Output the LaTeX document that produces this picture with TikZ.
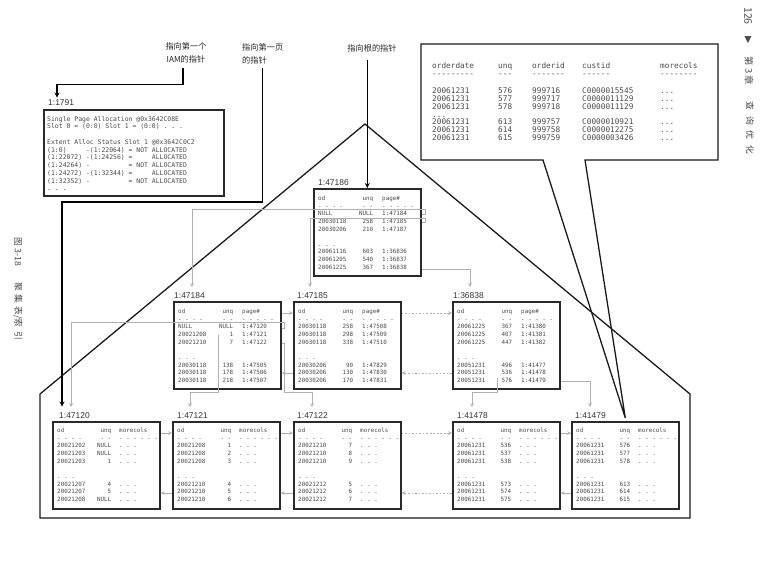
\documentclass[tikz,border=0pt]{standalone}
\usepackage{fontspec}
\setmainfont{Liberation Sans}
\setmonofont{DejaVu Sans Mono}
\newfontfamily\cjk{Noto Sans CJK SC}
\newfontfamily\symfont{DejaVu Sans}
\usepackage{xcolor}
\usepackage{tikz}
\usetikzlibrary{arrows}

\definecolor{inkgray}{HTML}{4A4A4A}
\definecolor{framegray}{HTML}{2A2A2A}
\definecolor{linkgray}{HTML}{B0B0B0}

\newlength{\pxu}
\setlength{\pxu}{0.03cm}
% one row of an index page / a data page / the order table
\newcommand{\prow}[3]{\makebox[55\pxu][l]{#1}\llap{#2}\hspace{9\pxu}#3}
\newcommand{\lrow}[3]{\makebox[54\pxu][l]{#1}\llap{#2}\hspace{8\pxu}#3}
\newcommand{\crow}[5]{\makebox[66\pxu][l]{#1}\makebox[34\pxu][l]{#2}\makebox[50\pxu][l]{#3}\makebox[78\pxu][l]{#4}#5}

\tikzstyle{pagebox} = [rectangle, draw=framegray, line width=1.4pt, minimum width=3.21cm, minimum height=2.61cm, anchor=north west, inner sep=0pt]
\tikzstyle{pagetext} = [anchor=north west, inner sep=0pt, align=left, text=inkgray, font=\ttfamily\fontsize{5}{6.5}\selectfont]
\tikzstyle{pagelabel} = [anchor=south west, inner sep=0pt, text=black!80, font=\fontsize{7.2}{8}\selectfont]
\tikzstyle{ptr} = [->, >=stealth, line width=0.9pt, black]
\tikzstyle{link} = [->, >=stealth, line width=0.5pt, linkgray]
\tikzstyle{farlink} = [link, dash pattern=on 1.5pt off 1.5pt]
\tikzstyle{treeline} = [line width=1.1pt, black!90]
\tikzstyle{note} = [inner sep=0pt, text=black!85, font=\cjk\fontsize{7}{11}\selectfont]
\tikzstyle{margin} = [inner sep=0pt, rotate=-90, text=black!70, font=\cjk\fontsize{7.5}{9}\selectfont]

\begin{document}
\begin{tikzpicture}[x=0.03cm, y=-0.03cm]
        \useasboundingbox (0,0) rectangle (764,582);

        % Tree outline
        \draw[treeline] (40,394) -- (365,124) -- (690,394) -- (690,518) -- (40,518) -- cycle;

        % Pointer texts
        \node[note, align=center] (tIAM) at (186,53) {指向第一个\\IAM的指针};
        \node[note, align=left, anchor=north west] (tfirst) at (242,43) {指向第一页\\的指针};
        \node[note] (troot) at (372,48) {指向根的指针};

        % IAM page
        \node[pagebox, minimum width=5.4cm, minimum height=2.58cm] (p1791) at (43,109) {};
        \node[pagelabel] (l1791) at ([shift={(5,-3)}]p1791.north west) {1:1791};
        \node[pagetext, font=\ttfamily\fontsize{5.5}{6.6}\selectfont] (t1791) at ([shift={(4,7)}]p1791.north west) {Single Page Allocation @0x3642C08E\\
Slot 0 = (0:0) Slot 1 = (0:0) . . .\\[6.6pt]
Extent Alloc Status Slot 1 @0x3642C0C2\\
(1:0)~~~~~-(1:22064) = NOT ALLOCATED\\
(1:22072) -(1:24256) =~~~~~ALLOCATED\\
(1:24264) -~~~~~~~~~~= NOT ALLOCATED\\
(1:24272) -(1:32344) =~~~~~ALLOCATED\\
(1:32352) -~~~~~~~~~~= NOT ALLOCATED\\
. . .};

        % Root page
        \node[pagebox] (p47186) at (313,188) {};
        \node[pagelabel] (l47186) at ([shift={(5,-2)}]p47186.north west) {1:47186};
        \node[pagetext] (t47186) at ([shift={(5,8)}]p47186.north west) {\prow{od}{unq}{page\#}\\
\prow{- - - -}{- -}{- - - - -}\\
\prow{NULL}{NULL}{1:47184}\\
\prow{20030118}{258}{1:47185}\\
\prow{20030206}{210}{1:47187}\\[6.5pt]
. . .\\
\prow{20061116}{603}{1:36836}\\
\prow{20061205}{540}{1:36837}\\
\prow{20061225}{367}{1:36838}};

        % Intermediate pages
        \node[pagebox] (p47184) at (173,301) {};
        \node[pagelabel] (l47184) at ([shift={(1,-2)}]p47184.north west) {1:47184};
        \node[pagetext] (t47184) at ([shift={(5,8)}]p47184.north west) {\prow{od}{unq}{page\#}\\
\prow{- - - -}{- -}{- - - - -}\\
\prow{NULL}{NULL}{1:47120}\\
\prow{20021208}{1}{1:47121}\\
\prow{20021210}{7}{1:47122}\\[6.5pt]
. . .\\
\prow{20030118}{138}{1:47505}\\
\prow{20030118}{178}{1:47506}\\
\prow{20030118}{218}{1:47507}};

        \node[pagebox] (p47185) at (293,301) {};
        \node[pagelabel] (l47185) at ([shift={(4,-2)}]p47185.north west) {1:47185};
        \node[pagetext] (t47185) at ([shift={(5,8)}]p47185.north west) {\prow{od}{unq}{page\#}\\
\prow{- - - -}{- -}{- - - - -}\\
\prow{20030118}{258}{1:47508}\\
\prow{20030118}{298}{1:47509}\\
\prow{20030118}{338}{1:47510}\\[6.5pt]
. . .\\
\prow{20030206}{90}{1:47829}\\
\prow{20030206}{130}{1:47830}\\
\prow{20030206}{170}{1:47831}};

        \node[pagebox] (p36838) at (452,301) {};
        \node[pagelabel] (l36838) at ([shift={(1,-2)}]p36838.north west) {1:36838};
        \node[pagetext] (t36838) at ([shift={(5,8)}]p36838.north west) {\prow{od}{unq}{page\#}\\
\prow{- - - -}{- -}{- - - - -}\\
\prow{20061225}{367}{1:41380}\\
\prow{20061225}{407}{1:41381}\\
\prow{20061225}{447}{1:41382}\\[6.5pt]
. . .\\
\prow{20051231}{496}{1:41477}\\
\prow{20051231}{536}{1:41478}\\
\prow{20051231}{576}{1:41479}};

        % Leaf pages
        \node[pagebox] (p47120) at (52,421) {};
        \node[pagelabel] (l47120) at ([shift={(7,-2)}]p47120.north west) {1:47120};
        \node[pagetext] (t47120) at ([shift={(5,7)}]p47120.north west) {\lrow{od}{unq}{morecols}\\
\lrow{- - - -}{- -}{- - - - - -}\\
\lrow{20021202}{NULL}{. . .}\\
\lrow{20021203}{NULL}{. . .}\\
\lrow{20021203}{1}{. . .}\\[6.5pt]
. . .\\
\lrow{20021207}{4}{. . .}\\
\lrow{20021207}{5}{. . .}\\
\lrow{20021208}{NULL}{. . .}};

        \node[pagebox] (p47121) at (172,421) {};
        \node[pagelabel] (l47121) at ([shift={(5,-2)}]p47121.north west) {1:47121};
        \node[pagetext] (t47121) at ([shift={(5,7)}]p47121.north west) {\lrow{od}{unq}{morecols}\\
\lrow{- - - -}{- -}{- - - - - -}\\
\lrow{20021208}{1}{. . .}\\
\lrow{20021208}{2}{. . .}\\
\lrow{20021208}{3}{. . .}\\[6.5pt]
. . .\\
\lrow{20021210}{4}{. . .}\\
\lrow{20021210}{5}{. . .}\\
\lrow{20021210}{6}{. . .}};

        \node[pagebox] (p47122) at (293,421) {};
        \node[pagelabel] (l47122) at ([shift={(4,-2)}]p47122.north west) {1:47122};
        \node[pagetext] (t47122) at ([shift={(5,7)}]p47122.north west) {\lrow{od}{unq}{morecols}\\
\lrow{- - - -}{- -}{- - - - - -}\\
\lrow{20021210}{7}{. . .}\\
\lrow{20021210}{8}{. . .}\\
\lrow{20021210}{9}{. . .}\\[6.5pt]
. . .\\
\lrow{20021212}{5}{. . .}\\
\lrow{20021212}{6}{. . .}\\
\lrow{20021212}{7}{. . .}};

        \node[pagebox] (p41478) at (452,421) {};
        \node[pagelabel] (l41478) at ([shift={(5,-2)}]p41478.north west) {1:41478};
        \node[pagetext] (t41478) at ([shift={(5,7)}]p41478.north west) {\lrow{od}{unq}{morecols}\\
\lrow{- - - -}{- -}{- - - - - -}\\
\lrow{20061231}{536}{. . .}\\
\lrow{20061231}{537}{. . .}\\
\lrow{20061231}{538}{. . .}\\[6.5pt]
. . .\\
\lrow{20061231}{573}{. . .}\\
\lrow{20061231}{574}{. . .}\\
\lrow{20061231}{575}{. . .}};

        \node[pagebox] (p41479) at (571,421) {};
        \node[pagelabel] (l41479) at ([shift={(4,-2)}]p41479.north west) {1:41479};
        \node[pagetext] (t41479) at ([shift={(5,7)}]p41479.north west) {\lrow{od}{unq}{morecols}\\
\lrow{- - - -}{- -}{- - - - - -}\\
\lrow{20061231}{576}{. . .}\\
\lrow{20061231}{577}{. . .}\\
\lrow{20061231}{578}{. . .}\\[6.5pt]
. . .\\
\lrow{20061231}{613}{. . .}\\
\lrow{20061231}{614}{. . .}\\
\lrow{20061231}{615}{. . .}};

        % Callout with the rows of the last page
        \coordinate (ctip) at ([shift={(0,-3)}]p41479.north);
        \draw[treeline] (421,44) -- (718,44) -- (718,160) -- (585,160) -- (ctip) -- (543,160) -- (421,160) -- cycle;
        \node[pagetext, font=\ttfamily\fontsize{6.6}{6.65}\selectfont] (tcall) at (432,62) {\crow{orderdate}{unq}{orderid}{custid}{morecols}\\[0.85pt]
\crow{-{}-{}-{}-{}-{}-{}-{}-{}-}{-{}-{}-}{-{}-{}-{}-{}-{}-{}-}{-{}-{}-{}-{}-{}-}{-{}-{}-{}-{}-{}-{}-{}-}\\[7.6pt]
\crow{20061231}{576}{999716}{C0000015545}{...}\\
\crow{20061231}{577}{999717}{C0000011129}{...}\\
\crow{20061231}{578}{999718}{C0000011129}{...}\\
...\\
\crow{20061231}{613}{999757}{C0000010921}{...}\\
\crow{20061231}{614}{999758}{C0000012275}{...}\\
\crow{20061231}{615}{999759}{C0000003426}{...}};

        % Pointers
        \draw[ptr] ([shift={(-3,5)}]tIAM.south) -- ++(0,16) -| ([shift={(9,-2)}]l1791.north west);
        \coordinate (firstbend) at (62,202);
        \draw[ptr, shorten >=0.18cm] ([shift={(0,4)}]tfirst.south) |- (firstbend) -- (firstbend |- l47120.north);
        \draw[ptr, shorten <=0.25cm] (troot.south -| p47186.north) -- (p47186.north);

        % Child page links
        \draw[link] ([shift={(0,26)}]p47186.north east) -- ++(4,0) -- ++(0,-5) -| ([shift={(19,-14)}]p47184.north west);
        \draw[link] ([shift={(0,34)}]p47186.north east) -- ++(4,0) -- ++(0,-4) -| ([shift={(17,-14)}]p47185.north west);
        \draw[link] ([shift={(0,81)}]p47186.north east) -| ([shift={(18,-14)}]p36838.north west);
        \draw[link] ([shift={(0,27)}]p47184.north east) -- ++(3,0) -- ++(0,-6) -| ([shift={(19,-14)}]p47120.north west);
        \draw[link] ([shift={(45,34)}]p47184.north west) -- ++(0,57) -| ([shift={(18,-14)}]p47121.north west);
        \draw[link] ([shift={(0,42)}]p47184.north east) -- ++(3,0) -- ++(0,49) -| ([shift={(19,-14)}]p47122.north west);
        \draw[link] ([shift={(45,77)}]p36838.north west) -- ++(0,14) -| ([shift={(20,-14)}]p41478.north west);
        \draw[link] ([shift={(0,80)}]p36838.north east) -| ([shift={(19,-14)}]p41479.north west);

        % Next / previous page links
        \draw[link] ([shift={(0,12)}]p47184.north east) -- ([shift={(0,12)}]p47185.north west);
        \draw[link] ([shift={(0,72)}]p47185.north west) -- ([shift={(0,72)}]p47184.north east);
        \draw[farlink] ([shift={(0,12)}]p47185.north east) -- ([shift={(0,12)}]p36838.north west);
        \draw[farlink] ([shift={(0,72)}]p36838.north west) -- ([shift={(0,72)}]p47185.north east);
        \foreach \a/\b/\s in {47120/47121/link, 47121/47122/link, 47122/41478/farlink, 41478/41479/link} {
            \draw[\s] ([shift={(0,12)}]p\a.north east) -- ([shift={(0,12)}]p\b.north west);
            \draw[\s] ([shift={(0,72)}]p\b.north west) -- ([shift={(0,72)}]p\a.north east);
        }

        % Margins
        \node[margin, font=\cjk\fontsize{9}{10}\selectfont] (pagenum) at (748,16) {126};
        \node[margin, font=\symfont\fontsize{8}{9}\selectfont] (pagetri) at (748,40) {▶};
        \node[margin, font=\cjk\fontsize{8}{9}\selectfont] (chapno) at (749,71) {第 3 章};
        \node[margin] (chaptitle) at (750,128) {查\kern5pt 询\kern5pt 优\kern5pt 化};
        \node[margin] (figno) at (18,252) {图 3-18};
        \node[margin] (figtitle) at (18,311) {聚\kern3pt 集\kern3pt 表/索\kern3pt 引};
    \end{tikzpicture}
\end{document}
